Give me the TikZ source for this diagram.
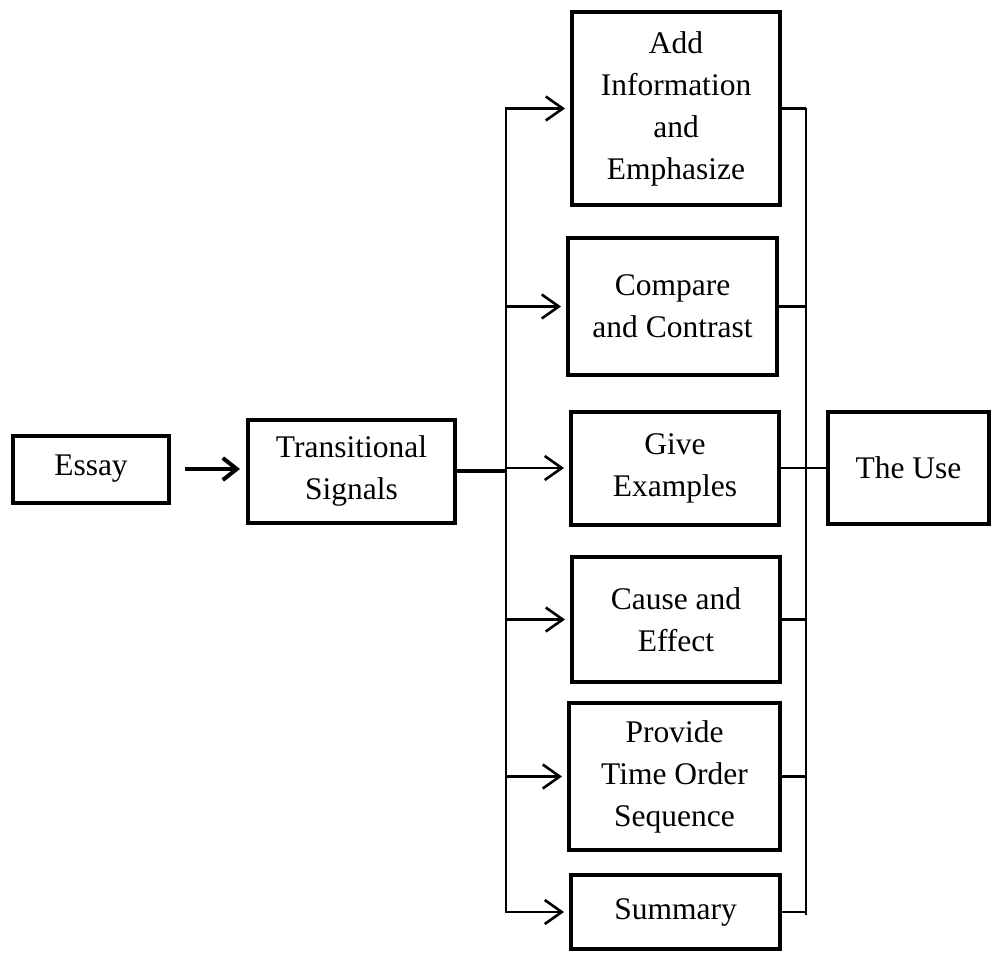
\documentclass[tikz,border=0pt]{standalone}
\usepackage{fontspec}
\setmainfont{Liberation Serif}
\usetikzlibrary{arrows.meta}
\begin{document}
\begin{tikzpicture}[x=1pt,y=-1pt,
  box/.style={draw,line width=4pt,rectangle,inner sep=0pt,align=center,
    font=\fontsize{31.5}{42}\selectfont},
  conn/.style={line width=2.6pt},
  arr/.style={line width=2.6pt,-{Straight Barb[length=17pt,width=24pt,line width=2.6pt]},shorten >=5pt}]
\useasboundingbox (0,0) rectangle (992,952);
\node[box,minimum width=156pt,minimum height=67pt] (essay) at (91,469) {Essay};
\node[box,minimum width=207pt,minimum height=103pt] (trans) at (351.5,471) {Transitional\\Signals};
\node[box,minimum width=208pt,minimum height=193pt] (add) at (676,108.5) {Add\\Information\\and\\Emphasize};
\node[box,minimum width=209pt,minimum height=137pt] (comp) at (672.5,306.5) {Compare\\and Contrast};
\node[box,minimum width=208pt,minimum height=113pt] (give) at (675,468) {Give\\Examples};
\node[box,minimum width=208pt,minimum height=125pt] (cause) at (676,619.5) {Cause and\\Effect};
\node[box,minimum width=211pt,minimum height=147pt] (prov) at (674.5,776.5) {Provide\\Time Order\\Sequence};
\node[box,minimum width=209pt,minimum height=74pt] (summ) at (675.5,912) {Summary};
\node[box,minimum width=161pt,minimum height=112pt] (use) at (908.5,468) {The Use};
\coordinate (lbt) at (506,107);
\coordinate (lbb) at (506,913);
\coordinate (rbt) at (806,108);
\coordinate (rbb) at (806,915);
\draw[line width=4pt,-{Straight Barb[length=14pt,width=22pt,line width=4pt]},shorten <=14pt,shorten >=6pt] (essay.east) -- (essay.east -| trans.west);
\draw[line width=3.5pt] (trans.east) -- (trans.east -| lbt);
\draw[conn] (lbt) -- (lbb);
\draw[conn] (rbt) -- (rbb);
\foreach \n in {add,comp,give,cause,prov,summ}{
  \draw[arr] (lbt |- \n.west) -- (\n.west);
  \draw[conn] (\n.east) -- (\n.east -| rbt);
}
\draw[conn] (give.east -| rbt) -- (use.west);
\end{tikzpicture}
\end{document}
